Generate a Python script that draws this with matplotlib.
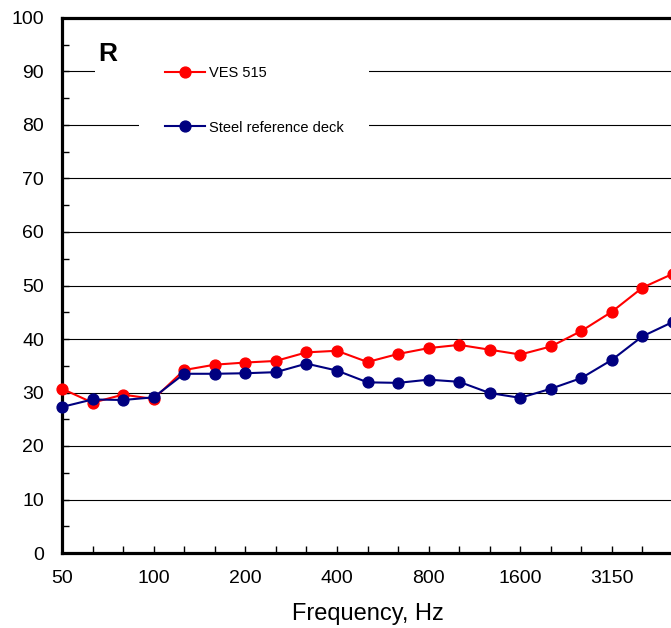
"""
plot.py - Sound reduction index R of VES 515 vs. steel reference deck.
"""
import matplotlib
matplotlib.use("Agg")
import matplotlib.pyplot as plt
from matplotlib.patches import Rectangle
from matplotlib.ticker import MultipleLocator

plt.rcParams["font.family"] = ["Liberation Sans", "DejaVu Sans"]

# Third-octave bands, 50 Hz .. 5000 Hz
freqs = ["50", "63", "80", "100", "125", "160", "200", "250", "315", "400",
         "500", "630", "800", "1000", "1250", "1600", "2000", "2500", "3150",
         "4000", "5000"]
tick_labels = ["50", "100", "200", "400", "800", "1600", "3150"]

ves_515 = [30.7, 28.1, 29.6, 28.8, 34.2, 35.2, 35.6, 35.9, 37.5, 37.8,
           35.7, 37.2, 38.3, 38.9, 38.0, 37.1, 38.6, 41.5, 45.1, 49.6, 52.2]
steel_ref = [27.3, 28.7, 28.6, 29.1, 33.5, 33.5, 33.6, 33.8, 35.4, 34.1,
             31.9, 31.8, 32.4, 32.0, 29.9, 29.0, 30.7, 32.7, 36.1, 40.5, 43.2]

W, H = 671, 628
fig = plt.figure(figsize=(W / 100, H / 100), dpi=100)
# axes runs slightly past the right edge, as in the source image
ax = fig.add_axes([62 / W, 75 / H, 611 / W, 535 / H])

x = list(range(len(freqs)))
ax.plot(x, ves_515, color="#ff0000", marker="o", markersize=7.8, lw=1.5,
        label="VES 515", zorder=4, clip_on=False)
ax.plot(x, steel_ref, color="#000080", marker="o", markersize=7.8, lw=1.5,
        label="Steel reference deck", zorder=5, clip_on=False)

ax.set_xlim(0, len(freqs) - 1)
ax.set_ylim(0, 100)
ax.set_xticks(x)
ax.set_xticklabels([f if f in tick_labels else "" for f in freqs])
ax.yaxis.set_major_locator(MultipleLocator(10))
ax.yaxis.set_minor_locator(MultipleLocator(5))
ax.tick_params(axis="x", direction="in", length=5, width=1, labelsize=14,
               pad=12.5, top=False)
ax.tick_params(axis="y", which="both", direction="in", length=5, width=1,
               labelsize=14, pad=13, right=False)

ax.grid(axis="y", color="black", lw=0.8, zorder=1)
ax.set_axisbelow(True)

for side in ("left", "bottom", "top"):
    ax.spines[side].set_linewidth(2.3)
ax.spines["right"].set_visible(False)

ax.set_xlabel("Frequency, Hz", fontsize=17, labelpad=11)

# white box behind the "R" label
ax.add_patch(Rectangle((0.054, 0.875), 0.072, 0.10, transform=ax.transAxes,
                       facecolor="white", edgecolor="none", zorder=2))
ax.text(0.075, 0.932, "R", transform=ax.transAxes, fontsize=19,
        fontweight="bold", ha="center", va="center", zorder=3)

leg = ax.legend(loc="upper left", bbox_to_anchor=(0.126, 0.0, 0.376, 0.959),
                mode="expand", borderaxespad=0, borderpad=1.8, fontsize=10.5,
                handlelength=2.74, handletextpad=0.27, labelspacing=2.77,
                frameon=True, fancybox=False, framealpha=1)
leg.get_frame().set_edgecolor("none")
leg.set_zorder(6)

fig.savefig("out.png", dpi=100)
